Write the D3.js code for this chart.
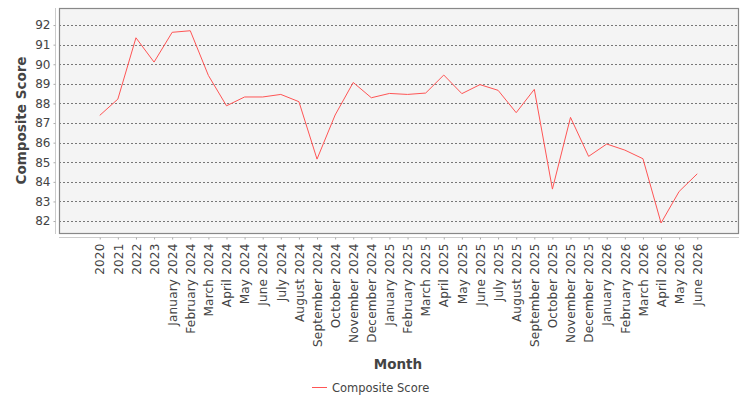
<!DOCTYPE html>
<html>
<head>
<meta charset="utf-8">
<script src="https://cdn.jsdelivr.net/npm/d3@7"></script>
<style>
  body { margin: 0; background: #fff; }
  text { font-family: "DejaVu Sans", sans-serif; fill: #444; }
</style>
</head>
<body>
<svg id="chart"></svg>
<script>
const width = 750;
const height = 400;

const months = ['2020', '2021', '2022', '2023',
  'January 2024', 'February 2024', 'March 2024', 'April 2024', 'May 2024', 'June 2024',
  'July 2024', 'August 2024', 'September 2024', 'October 2024', 'November 2024', 'December 2024',
  'January 2025', 'February 2025', 'March 2025', 'April 2025', 'May 2025', 'June 2025',
  'July 2025', 'August 2025', 'September 2025', 'October 2025', 'November 2025', 'December 2025',
  'January 2026', 'February 2026', 'March 2026', 'April 2026', 'May 2026', 'June 2026'];
const scores = [87.39, 88.22, 91.35, 90.11,
  91.63, 91.71, 89.43, 87.88, 88.33, 88.33,
  88.46, 88.09, 85.16, 87.41, 89.07, 88.29,
  88.51, 88.46, 88.53, 89.45, 88.50, 88.96,
  88.67, 87.53, 88.72, 83.63, 87.29, 85.30,
  85.93, 85.62, 85.18, 81.90, 83.51, 84.41];
const yTicks = [82, 83, 84, 85, 86, 87, 88, 89, 90, 91, 92];
const seriesName = 'Composite Score';

const plot = {left: 59, right: 738, top: 8, bottom: 233};

const svg = d3.select('#chart')
  .attr('width', width)
  .attr('height', height);

const x = d3.scalePoint()
  .domain(months)
  .range([plot.left, plot.right])
  .padding(2.25);

const y = d3.scaleLinear()
  .domain([81.39, 92.87])
  .range([plot.bottom, plot.top]);

// plot background
svg.append('rect')
  .attr('x', plot.left + 0.5)
  .attr('y', plot.top + 0.5)
  .attr('width', plot.right - plot.left)
  .attr('height', plot.bottom - plot.top)
  .attr('fill', '#f4f4f4');

// gridlines
svg.append('g')
  .selectAll('line')
  .data(yTicks)
  .enter()
  .append('line')
  .attr('x1', plot.left)
  .attr('x2', plot.right)
  .attr('y1', d => Math.round(y(d)) + 0.5)
  .attr('y2', d => Math.round(y(d)) + 0.5)
  .attr('stroke', '#777')
  .attr('stroke-width', 1)
  .attr('stroke-dasharray', '2,2');

// border
svg.append('rect')
  .attr('x', plot.left + 0.5)
  .attr('y', plot.top + 0.5)
  .attr('width', plot.right - plot.left)
  .attr('height', plot.bottom - plot.top)
  .attr('fill', 'none')
  .attr('stroke', '#888')
  .attr('stroke-width', 1.2);

// y axis
const yAxis = svg.append('g')
  .attr('transform', 'translate(55.5,0)')
  .call(d3.axisLeft(y).tickValues(yTicks).tickSize(2).tickPadding(3).tickSizeOuter(0));
yAxis.select('.domain').attr('stroke', '#ccc').attr('d', `M0,${plot.top}V${plot.bottom + 1}`);
yAxis.selectAll('.tick line').attr('stroke', '#aaa');
yAxis.selectAll('.tick text')
  .style('font-size', '12px')
  .attr('fill', '#444');

// x axis
const xAxis = svg.append('g')
  .attr('transform', 'translate(0,237.5)')
  .call(d3.axisBottom(x).tickSize(2).tickSizeOuter(0));
xAxis.select('.domain').attr('stroke', '#ccc').attr('d', `M${plot.left},0H${plot.right + 1}`);
xAxis.selectAll('.tick line').attr('stroke', '#aaa');
xAxis.selectAll('.tick text')
  .style('font-size', '12px')
  .style('letter-spacing', '0.2px')
  .attr('fill', '#444')
  .attr('text-anchor', 'end')
  .attr('transform', 'rotate(-90)')
  .attr('x', -6)
  .attr('y', 0)
  .attr('dy', '0.35em');

// line
const line = d3.line()
  .x((d, i) => x(months[i]))
  .y(d => y(d));

svg.append('path')
  .datum(scores)
  .attr('d', line)
  .attr('fill', 'none')
  .attr('stroke', '#ff5555')
  .attr('stroke-width', 1);

// axis titles
svg.append('text')
  .attr('transform', `translate(26,${(plot.top + plot.bottom) / 2}) rotate(-90)`)
  .attr('text-anchor', 'middle')
  .style('font-size', '13.5px')
  .style('font-weight', 'bold')
  .text('Composite Score');

svg.append('text')
  .attr('x', 398)
  .attr('y', 369)
  .attr('text-anchor', 'middle')
  .style('font-size', '13.5px')
  .style('font-weight', 'bold')
  .text('Month');

// legend
const legend = svg.append('g').attr('transform', 'translate(312,387.5)');
legend.append('line')
  .attr('x1', 0).attr('x2', 15)
  .attr('stroke', '#ff5555')
  .attr('stroke-width', 1);
legend.append('text')
  .attr('x', 20)
  .attr('dy', '0.35em')
  .style('font-size', '11.5px')
  .text(seriesName);
</script>
</body>
</html>
